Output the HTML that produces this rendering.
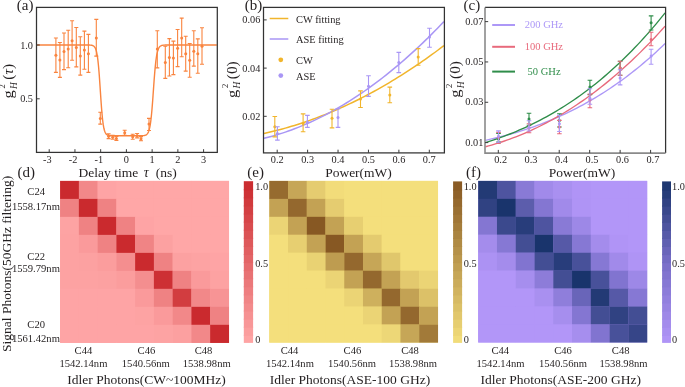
<!DOCTYPE html><html><head><meta charset="utf-8"><style>html,body{margin:0;padding:0;background:#fff;}svg{display:block;font-family:"Liberation Serif", serif;will-change:transform;}</style></head><body>
<svg width="685" height="387" viewBox="0 0 685 387">
<rect width="685" height="387" fill="#fff"/>
<path d="M37.00,45.00 L37.36,45.00 L37.72,45.00 L38.08,45.00 L38.44,45.00 L38.80,45.00 L39.16,45.00 L39.52,45.00 L39.88,45.00 L40.24,45.00 L40.60,45.00 L40.96,45.00 L41.32,45.00 L41.68,45.00 L42.04,45.00 L42.40,45.00 L42.77,45.00 L43.13,45.00 L43.49,45.00 L43.85,45.00 L44.21,45.00 L44.57,45.00 L44.93,45.00 L45.29,45.00 L45.65,45.00 L46.01,45.00 L46.37,45.00 L46.73,45.00 L47.09,45.00 L47.45,45.00 L47.81,45.00 L48.17,45.00 L48.53,45.00 L48.89,45.00 L49.25,45.00 L49.61,45.00 L49.97,45.00 L50.33,45.00 L50.69,45.00 L51.05,45.00 L51.41,45.00 L51.77,45.00 L52.13,45.00 L52.49,45.00 L52.85,45.00 L53.21,45.00 L53.57,45.00 L53.94,45.00 L54.30,45.00 L54.66,45.00 L55.02,45.00 L55.38,45.00 L55.74,45.00 L56.10,45.00 L56.46,45.00 L56.82,45.00 L57.18,45.00 L57.54,45.00 L57.90,45.00 L58.26,45.00 L58.62,45.00 L58.98,45.00 L59.34,45.00 L59.70,45.00 L60.06,45.00 L60.42,45.00 L60.78,45.00 L61.14,45.00 L61.50,45.00 L61.86,45.00 L62.22,45.00 L62.58,45.00 L62.94,45.00 L63.30,45.00 L63.66,45.00 L64.02,45.00 L64.38,45.00 L64.74,45.00 L65.11,45.00 L65.47,45.00 L65.83,45.00 L66.19,45.00 L66.55,45.00 L66.91,45.00 L67.27,45.00 L67.63,45.00 L67.99,45.00 L68.35,45.00 L68.71,45.00 L69.07,45.00 L69.43,45.00 L69.79,45.00 L70.15,45.00 L70.51,45.00 L70.87,45.00 L71.23,45.00 L71.59,45.00 L71.95,45.00 L72.31,45.00 L72.67,45.00 L73.03,45.00 L73.39,45.00 L73.75,45.00 L74.11,45.00 L74.47,45.00 L74.83,45.00 L75.19,45.00 L75.55,45.00 L75.91,45.00 L76.27,45.00 L76.64,45.00 L77.00,45.00 L77.36,45.00 L77.72,45.00 L78.08,45.00 L78.44,45.00 L78.80,45.00 L79.16,45.00 L79.52,45.00 L79.88,45.00 L80.24,45.00 L80.60,45.00 L80.96,45.00 L81.32,45.00 L81.68,45.00 L82.04,45.00 L82.40,45.00 L82.76,45.00 L83.12,45.00 L83.48,45.00 L83.84,45.00 L84.20,45.00 L84.56,45.00 L84.92,45.00 L85.28,45.00 L85.64,45.01 L86.00,45.01 L86.36,45.01 L86.72,45.01 L87.08,45.01 L87.44,45.02 L87.81,45.02 L88.17,45.03 L88.53,45.04 L88.89,45.05 L89.25,45.06 L89.61,45.07 L89.97,45.09 L90.33,45.12 L90.69,45.15 L91.05,45.19 L91.41,45.24 L91.77,45.31 L92.13,45.39 L92.49,45.49 L92.85,45.63 L93.21,45.80 L93.57,46.01 L93.93,46.28 L94.29,46.62 L94.65,47.05 L95.01,47.60 L95.37,48.28 L95.73,49.12 L96.09,50.18 L96.45,51.49 L96.81,53.09 L97.17,55.05 L97.53,57.40 L97.89,60.20 L98.25,63.49 L98.61,67.28 L98.98,71.56 L99.34,76.29 L99.70,81.38 L100.06,86.72 L100.42,92.16 L100.78,97.55 L101.14,102.75 L101.50,107.62 L101.86,112.06 L102.22,116.03 L102.58,119.49 L102.94,122.46 L103.30,124.97 L103.66,127.06 L104.02,128.78 L104.38,130.19 L104.74,131.33 L105.10,132.25 L105.46,132.98 L105.82,133.57 L106.18,134.04 L106.54,134.41 L106.90,134.70 L107.26,134.93 L107.62,135.12 L107.98,135.26 L108.34,135.38 L108.70,135.47 L109.06,135.54 L109.42,135.59 L109.78,135.64 L110.15,135.67 L110.51,135.70 L110.87,135.72 L111.23,135.74 L111.59,135.75 L111.95,135.76 L112.31,135.77 L112.67,135.78 L113.03,135.78 L113.39,135.79 L113.75,135.79 L114.11,135.79 L114.47,135.79 L114.83,135.79 L115.19,135.80 L115.55,135.80 L115.91,135.80 L116.27,135.80 L116.63,135.80 L116.99,135.80 L117.35,135.80 L117.71,135.80 L118.07,135.80 L118.43,135.80 L118.79,135.80 L119.15,135.80 L119.51,135.80 L119.87,135.80 L120.23,135.80 L120.59,135.80 L120.95,135.80 L121.32,135.80 L121.68,135.80 L122.04,135.80 L122.40,135.80 L122.76,135.80 L123.12,135.80 L123.48,135.80 L123.84,135.80 L124.20,135.80 L124.56,135.80 L124.92,135.80 L125.28,135.80 L125.64,135.80 L126.00,135.80 L126.36,135.80 L126.72,135.80 L127.08,135.80 L127.44,135.80 L127.80,135.80 L128.16,135.80 L128.52,135.80 L128.88,135.80 L129.24,135.80 L129.60,135.80 L129.96,135.80 L130.32,135.80 L130.68,135.80 L131.04,135.80 L131.40,135.80 L131.76,135.80 L132.12,135.80 L132.48,135.80 L132.85,135.80 L133.21,135.80 L133.57,135.80 L133.93,135.80 L134.29,135.80 L134.65,135.80 L135.01,135.80 L135.37,135.80 L135.73,135.80 L136.09,135.80 L136.45,135.80 L136.81,135.80 L137.17,135.80 L137.53,135.80 L137.89,135.79 L138.25,135.79 L138.61,135.79 L138.97,135.79 L139.33,135.79 L139.69,135.78 L140.05,135.78 L140.41,135.77 L140.77,135.77 L141.13,135.76 L141.49,135.75 L141.85,135.73 L142.21,135.72 L142.57,135.70 L142.93,135.67 L143.29,135.64 L143.65,135.59 L144.02,135.54 L144.38,135.48 L144.74,135.40 L145.10,135.30 L145.46,135.17 L145.82,135.01 L146.18,134.82 L146.54,134.57 L146.90,134.27 L147.26,133.89 L147.62,133.42 L147.98,132.83 L148.34,132.12 L148.70,131.23 L149.06,130.15 L149.42,128.83 L149.78,127.24 L150.14,125.32 L150.50,123.05 L150.86,120.38 L151.22,117.28 L151.58,113.74 L151.94,109.76 L152.30,105.39 L152.66,100.68 L153.02,95.72 L153.38,90.63 L153.74,85.54 L154.10,80.57 L154.46,75.83 L154.82,71.42 L155.19,67.41 L155.55,63.83 L155.91,60.69 L156.27,57.98 L156.63,55.67 L156.99,53.72 L157.35,52.10 L157.71,50.76 L158.07,49.66 L158.43,48.76 L158.79,48.03 L159.15,47.43 L159.51,46.95 L159.87,46.57 L160.23,46.25 L160.59,46.00 L160.95,45.80 L161.31,45.64 L161.67,45.51 L162.03,45.41 L162.39,45.33 L162.75,45.26 L163.11,45.21 L163.47,45.17 L163.83,45.13 L164.19,45.11 L164.55,45.09 L164.91,45.07 L165.27,45.05 L165.63,45.04 L165.99,45.03 L166.36,45.03 L166.72,45.02 L167.08,45.02 L167.44,45.01 L167.80,45.01 L168.16,45.01 L168.52,45.01 L168.88,45.01 L169.24,45.00 L169.60,45.00 L169.96,45.00 L170.32,45.00 L170.68,45.00 L171.04,45.00 L171.40,45.00 L171.76,45.00 L172.12,45.00 L172.48,45.00 L172.84,45.00 L173.20,45.00 L173.56,45.00 L173.92,45.00 L174.28,45.00 L174.64,45.00 L175.00,45.00 L175.36,45.00 L175.72,45.00 L176.08,45.00 L176.44,45.00 L176.80,45.00 L177.16,45.00 L177.53,45.00 L177.89,45.00 L178.25,45.00 L178.61,45.00 L178.97,45.00 L179.33,45.00 L179.69,45.00 L180.05,45.00 L180.41,45.00 L180.77,45.00 L181.13,45.00 L181.49,45.00 L181.85,45.00 L182.21,45.00 L182.57,45.00 L182.93,45.00 L183.29,45.00 L183.65,45.00 L184.01,45.00 L184.37,45.00 L184.73,45.00 L185.09,45.00 L185.45,45.00 L185.81,45.00 L186.17,45.00 L186.53,45.00 L186.89,45.00 L187.25,45.00 L187.61,45.00 L187.97,45.00 L188.33,45.00 L188.69,45.00 L189.06,45.00 L189.42,45.00 L189.78,45.00 L190.14,45.00 L190.50,45.00 L190.86,45.00 L191.22,45.00 L191.58,45.00 L191.94,45.00 L192.30,45.00 L192.66,45.00 L193.02,45.00 L193.38,45.00 L193.74,45.00 L194.10,45.00 L194.46,45.00 L194.82,45.00 L195.18,45.00 L195.54,45.00 L195.90,45.00 L196.26,45.00 L196.62,45.00 L196.98,45.00 L197.34,45.00 L197.70,45.00 L198.06,45.00 L198.42,45.00 L198.78,45.00 L199.14,45.00 L199.50,45.00 L199.86,45.00 L200.23,45.00 L200.59,45.00 L200.95,45.00 L201.31,45.00 L201.67,45.00 L202.03,45.00 L202.39,45.00 L202.75,45.00 L203.11,45.00 L203.47,45.00 L203.83,45.00 L204.19,45.00 L204.55,45.00 L204.91,45.00 L205.27,45.00 L205.63,45.00 L205.99,45.00 L206.35,45.00 L206.71,45.00 L207.07,45.00 L207.43,45.00 L207.79,45.00 L208.15,45.00 L208.51,45.00 L208.87,45.00 L209.23,45.00 L209.59,45.00 L209.95,45.00 L210.31,45.00 L210.67,45.00 L211.03,45.00 L211.40,45.00 L211.76,45.00 L212.12,45.00 L212.48,45.00 L212.84,45.00 L213.20,45.00 L213.56,45.00 L213.92,45.00 L214.28,45.00 L214.64,45.00 L215.00,45.00 L215.36,45.00 L215.72,45.00 L216.08,45.00 L216.44,45.00 L216.80,45.00" stroke="#f9843f" stroke-width="1.4" fill="none"/>
<path d="M55.90,38.00 V72.40 M53.90,38.00 H57.90 M53.90,72.40 H57.90" stroke="#f9843f" stroke-width="1.1" fill="none"/>
<circle cx="55.90" cy="55.20" r="1.5" fill="#f9843f"/>
<path d="M59.90,42.50 V77.40 M57.90,42.50 H61.90 M57.90,77.40 H61.90" stroke="#f9843f" stroke-width="1.1" fill="none"/>
<circle cx="59.90" cy="60.10" r="1.5" fill="#f9843f"/>
<path d="M64.00,33.00 V69.60 M62.00,33.00 H66.00 M62.00,69.60 H66.00" stroke="#f9843f" stroke-width="1.1" fill="none"/>
<circle cx="64.00" cy="51.60" r="1.5" fill="#f9843f"/>
<path d="M68.20,30.20 V67.80 M66.20,30.20 H70.20 M66.20,67.80 H70.20" stroke="#f9843f" stroke-width="1.1" fill="none"/>
<circle cx="68.20" cy="48.90" r="1.5" fill="#f9843f"/>
<path d="M72.10,20.80 V60.20 M70.10,20.80 H74.10 M70.10,60.20 H74.10" stroke="#f9843f" stroke-width="1.1" fill="none"/>
<circle cx="72.10" cy="40.70" r="1.5" fill="#f9843f"/>
<path d="M76.30,27.50 V66.90 M74.30,27.50 H78.30 M74.30,66.90 H78.30" stroke="#f9843f" stroke-width="1.1" fill="none"/>
<circle cx="76.30" cy="47.40" r="1.5" fill="#f9843f"/>
<path d="M80.30,36.70 V75.10 M78.30,36.70 H82.30 M78.30,75.10 H82.30" stroke="#f9843f" stroke-width="1.1" fill="none"/>
<circle cx="80.30" cy="56.10" r="1.5" fill="#f9843f"/>
<path d="M84.40,31.10 V69.30 M82.40,31.10 H86.40 M82.40,69.30 H86.40" stroke="#f9843f" stroke-width="1.1" fill="none"/>
<circle cx="84.40" cy="50.10" r="1.5" fill="#f9843f"/>
<path d="M88.40,34.40 V72.40 M86.40,34.40 H90.40 M86.40,72.40 H90.40" stroke="#f9843f" stroke-width="1.1" fill="none"/>
<circle cx="88.40" cy="53.70" r="1.5" fill="#f9843f"/>
<path d="M96.30,19.40 V56.10 M94.30,19.40 H98.30 M94.30,56.10 H98.30" stroke="#f9843f" stroke-width="1.1" fill="none"/>
<circle cx="96.30" cy="38.00" r="1.5" fill="#f9843f"/>
<path d="M100.30,112.30 V124.10 M98.30,112.30 H102.30 M98.30,124.10 H102.30" stroke="#f9843f" stroke-width="1.1" fill="none"/>
<circle cx="100.30" cy="118.50" r="1.5" fill="#f9843f"/>
<path d="M108.60,133.90 V138.60 M106.60,133.90 H110.60 M106.60,138.60 H110.60" stroke="#f9843f" stroke-width="1.1" fill="none"/>
<circle cx="108.60" cy="136.20" r="1.5" fill="#f9843f"/>
<path d="M112.70,135.20 V139.30 M110.70,135.20 H114.70 M110.70,139.30 H114.70" stroke="#f9843f" stroke-width="1.1" fill="none"/>
<circle cx="112.70" cy="137.20" r="1.5" fill="#f9843f"/>
<path d="M116.40,136.40 V140.40 M114.40,136.40 H118.40 M114.40,140.40 H118.40" stroke="#f9843f" stroke-width="1.1" fill="none"/>
<circle cx="116.40" cy="138.40" r="1.5" fill="#f9843f"/>
<path d="M124.70,130.20 V135.30 M122.70,130.20 H126.70 M122.70,135.30 H126.70" stroke="#f9843f" stroke-width="1.1" fill="none"/>
<circle cx="124.70" cy="132.80" r="1.5" fill="#f9843f"/>
<path d="M132.70,134.20 V139.30 M130.70,134.20 H134.70 M130.70,139.30 H134.70" stroke="#f9843f" stroke-width="1.1" fill="none"/>
<circle cx="132.70" cy="136.70" r="1.5" fill="#f9843f"/>
<path d="M137.10,133.50 V137.90 M135.10,133.50 H139.10 M135.10,137.90 H139.10" stroke="#f9843f" stroke-width="1.1" fill="none"/>
<circle cx="137.10" cy="135.70" r="1.5" fill="#f9843f"/>
<path d="M141.00,136.60 V140.80 M139.00,136.60 H143.00 M139.00,140.80 H143.00" stroke="#f9843f" stroke-width="1.1" fill="none"/>
<circle cx="141.00" cy="138.70" r="1.5" fill="#f9843f"/>
<path d="M149.00,118.40 V130.50 M147.00,118.40 H151.00 M147.00,130.50 H151.00" stroke="#f9843f" stroke-width="1.1" fill="none"/>
<circle cx="149.00" cy="124.00" r="1.5" fill="#f9843f"/>
<path d="M157.30,30.80 V67.90 M155.30,30.80 H159.30 M155.30,67.90 H159.30" stroke="#f9843f" stroke-width="1.1" fill="none"/>
<circle cx="157.30" cy="48.90" r="1.5" fill="#f9843f"/>
<path d="M165.30,46.20 V78.40 M163.30,46.20 H167.30 M163.30,78.40 H167.30" stroke="#f9843f" stroke-width="1.1" fill="none"/>
<circle cx="165.30" cy="62.50" r="1.5" fill="#f9843f"/>
<path d="M169.40,38.60 V76.00 M167.40,38.60 H171.40 M167.40,76.00 H171.40" stroke="#f9843f" stroke-width="1.1" fill="none"/>
<circle cx="169.40" cy="57.40" r="1.5" fill="#f9843f"/>
<path d="M173.40,41.10 V74.60 M171.40,41.10 H175.40 M171.40,74.60 H175.40" stroke="#f9843f" stroke-width="1.1" fill="none"/>
<circle cx="173.40" cy="57.90" r="1.5" fill="#f9843f"/>
<path d="M177.60,29.50 V66.60 M175.60,29.50 H179.60 M175.60,66.60 H179.60" stroke="#f9843f" stroke-width="1.1" fill="none"/>
<circle cx="177.60" cy="48.30" r="1.5" fill="#f9843f"/>
<path d="M181.70,18.10 V56.70 M179.70,18.10 H183.70 M179.70,56.70 H183.70" stroke="#f9843f" stroke-width="1.1" fill="none"/>
<circle cx="181.70" cy="38.00" r="1.5" fill="#f9843f"/>
<path d="M185.70,36.20 V71.10 M183.70,36.20 H187.70 M183.70,71.10 H187.70" stroke="#f9843f" stroke-width="1.1" fill="none"/>
<circle cx="185.70" cy="53.80" r="1.5" fill="#f9843f"/>
<path d="M189.70,43.50 V77.30 M187.70,43.50 H191.70 M187.70,77.30 H191.70" stroke="#f9843f" stroke-width="1.1" fill="none"/>
<circle cx="189.70" cy="60.30" r="1.5" fill="#f9843f"/>
<path d="M193.80,30.80 V66.10 M191.80,30.80 H195.80 M191.80,66.10 H195.80" stroke="#f9843f" stroke-width="1.1" fill="none"/>
<circle cx="193.80" cy="51.20" r="1.5" fill="#f9843f"/>
<path d="M197.80,38.90 V73.30 M195.80,38.90 H199.80 M195.80,73.30 H199.80" stroke="#f9843f" stroke-width="1.1" fill="none"/>
<circle cx="197.80" cy="53.80" r="1.5" fill="#f9843f"/>
<path d="M202.00,27.70 V64.30 M200.00,27.70 H204.00 M200.00,64.30 H204.00" stroke="#f9843f" stroke-width="1.1" fill="none"/>
<circle cx="202.00" cy="46.20" r="1.5" fill="#f9843f"/>
<rect x="36.5" y="7.4" width="180.8" height="145.0" fill="none" stroke="#333" stroke-width="1.25"/>
<path d="M49.21,152.4 V149.20000000000002" stroke="#3c3c3c" stroke-width="1"/>
<text x="47.41" y="162.70" font-size="10.3" text-anchor="middle" fill="#231f20" >-3</text>
<path d="M74.94,152.4 V149.20000000000002" stroke="#3c3c3c" stroke-width="1"/>
<text x="73.14" y="162.70" font-size="10.3" text-anchor="middle" fill="#231f20" >-2</text>
<path d="M100.67,152.4 V149.20000000000002" stroke="#3c3c3c" stroke-width="1"/>
<text x="98.87" y="162.70" font-size="10.3" text-anchor="middle" fill="#231f20" >-1</text>
<path d="M126.40,152.4 V149.20000000000002" stroke="#3c3c3c" stroke-width="1"/>
<text x="126.40" y="162.70" font-size="10.3" text-anchor="middle" fill="#231f20" >0</text>
<path d="M152.13,152.4 V149.20000000000002" stroke="#3c3c3c" stroke-width="1"/>
<text x="152.13" y="162.70" font-size="10.3" text-anchor="middle" fill="#231f20" >1</text>
<path d="M177.86,152.4 V149.20000000000002" stroke="#3c3c3c" stroke-width="1"/>
<text x="177.86" y="162.70" font-size="10.3" text-anchor="middle" fill="#231f20" >2</text>
<path d="M203.59,152.4 V149.20000000000002" stroke="#3c3c3c" stroke-width="1"/>
<text x="203.59" y="162.70" font-size="10.3" text-anchor="middle" fill="#231f20" >3</text>
<path d="M36.5,45.00 H39.7" stroke="#3c3c3c" stroke-width="1"/>
<text x="33.00" y="48.50" font-size="10.3" text-anchor="end" fill="#231f20" >1.0</text>
<path d="M36.5,98.80 H39.7" stroke="#3c3c3c" stroke-width="1"/>
<text x="33.00" y="102.30" font-size="10.3" text-anchor="end" fill="#231f20" >0.5</text>
<text x="78.60" y="176.80" font-size="13.5" text-anchor="start" fill="#231f20" >Delay time<tspan dx="5.5" font-style="italic" font-size="14">τ</tspan><tspan dx="7">(ns)</tspan></text>
<text x="16.80" y="10.30" font-size="15" text-anchor="start" fill="#231f20" >(a)</text>
<g transform="translate(13.2,98.2) rotate(-90)">
<text x="-0.3" y="0" font-size="15.5" fill="#231f20" textLength="8.2" lengthAdjust="spacingAndGlyphs">g</text>
<text x="9.6" y="-8.1" font-size="8.5" fill="#231f20">2</text>
<text x="9.3" y="3.8" font-size="9.4" fill="#231f20" font-style="italic">H</text>
<text x="18.5" y="0" font-size="15.4" fill="#231f20">(<tspan font-style="italic">τ</tspan>)</text>
</g>
<path d="M264.00,133.41 L267.05,132.73 L270.10,132.03 L273.15,131.30 L276.20,130.54 L279.25,129.76 L282.29,128.94 L285.34,128.10 L288.39,127.23 L291.44,126.33 L294.49,125.41 L297.54,124.45 L300.59,123.47 L303.64,122.46 L306.69,121.42 L309.74,120.35 L312.79,119.26 L315.84,118.14 L318.88,116.99 L321.93,115.81 L324.98,114.60 L328.03,113.37 L331.08,112.10 L334.13,110.81 L337.18,109.49 L340.23,108.15 L343.28,106.77 L346.33,105.37 L349.38,103.94 L352.43,102.48 L355.47,100.99 L358.52,99.48 L361.57,97.93 L364.62,96.36 L367.67,94.76 L370.72,93.14 L373.77,91.48 L376.82,89.80 L379.87,88.09 L382.92,86.35 L385.97,84.58 L389.02,82.78 L392.06,80.96 L395.11,79.11 L398.16,77.23 L401.21,75.32 L404.26,73.39 L407.31,71.42 L410.36,69.43 L413.41,67.41 L416.46,65.36 L419.51,63.29 L422.56,61.18 L425.61,59.05 L428.65,56.89 L431.70,54.70 L434.75,52.49 L437.80,50.24 L440.85,47.97 L443.90,45.67" stroke="#f1b52c" stroke-width="1.5" fill="none"/>
<path d="M264.00,138.33 L267.05,137.57 L270.10,136.76 L273.15,135.91 L276.20,135.02 L279.25,134.09 L282.29,133.11 L285.34,132.10 L288.39,131.04 L291.44,129.94 L294.49,128.80 L297.54,127.61 L300.59,126.39 L303.64,125.12 L306.69,123.81 L309.74,122.46 L312.79,121.07 L315.84,119.63 L318.88,118.16 L321.93,116.64 L324.98,115.08 L328.03,113.48 L331.08,111.83 L334.13,110.15 L337.18,108.42 L340.23,106.65 L343.28,104.84 L346.33,102.99 L349.38,101.09 L352.43,99.16 L355.47,97.18 L358.52,95.16 L361.57,93.10 L364.62,91.00 L367.67,88.85 L370.72,86.66 L373.77,84.43 L376.82,82.16 L379.87,79.85 L382.92,77.50 L385.97,75.10 L389.02,72.66 L392.06,70.18 L395.11,67.66 L398.16,65.10 L401.21,62.50 L404.26,59.85 L407.31,57.16 L410.36,54.43 L413.41,51.66 L416.46,48.84 L419.51,45.99 L422.56,43.09 L425.61,40.15 L428.65,37.17 L431.70,34.15 L434.75,31.08 L437.80,27.98 L440.85,24.83 L443.90,21.64" stroke="#a996f5" stroke-width="1.5" fill="none"/>
<path d="M274.80,116.50 V136.90 M272.50,116.50 H277.10 M272.50,136.90 H277.10" stroke="#f1b52c" stroke-width="1.1" fill="none"/>
<circle cx="274.80" cy="126.80" r="1.5" fill="#f1b52c"/>
<path d="M303.10,113.90 V131.70 M300.80,113.90 H305.40 M300.80,131.70 H305.40" stroke="#f1b52c" stroke-width="1.1" fill="none"/>
<circle cx="303.10" cy="123.60" r="1.5" fill="#f1b52c"/>
<path d="M332.00,109.20 V127.90 M329.70,109.20 H334.30 M329.70,127.90 H334.30" stroke="#f1b52c" stroke-width="1.1" fill="none"/>
<circle cx="332.00" cy="118.20" r="1.5" fill="#f1b52c"/>
<path d="M360.50,90.90 V107.50 M358.20,90.90 H362.80 M358.20,107.50 H362.80" stroke="#f1b52c" stroke-width="1.1" fill="none"/>
<circle cx="360.50" cy="99.00" r="1.5" fill="#f1b52c"/>
<path d="M389.80,87.10 V102.70 M387.50,87.10 H392.10 M387.50,102.70 H392.10" stroke="#f1b52c" stroke-width="1.1" fill="none"/>
<circle cx="389.80" cy="95.00" r="1.5" fill="#f1b52c"/>
<path d="M418.20,48.60 V65.20 M415.90,48.60 H420.50 M415.90,65.20 H420.50" stroke="#f1b52c" stroke-width="1.1" fill="none"/>
<circle cx="418.20" cy="57.00" r="1.5" fill="#f1b52c"/>
<path d="M277.40,126.80 V140.10 M275.10,126.80 H279.70 M275.10,140.10 H279.70" stroke="#a996f5" stroke-width="1.1" fill="none"/>
<circle cx="277.40" cy="133.60" r="1.5" fill="#a996f5"/>
<path d="M307.40,115.40 V127.40 M305.10,115.40 H309.70 M305.10,127.40 H309.70" stroke="#a996f5" stroke-width="1.1" fill="none"/>
<circle cx="307.40" cy="122.10" r="1.5" fill="#a996f5"/>
<path d="M338.00,108.60 V127.40 M335.70,108.60 H340.30 M335.70,127.40 H340.30" stroke="#a996f5" stroke-width="1.1" fill="none"/>
<circle cx="338.00" cy="117.60" r="1.5" fill="#a996f5"/>
<path d="M368.50,75.70 V96.40 M366.20,75.70 H370.80 M366.20,96.40 H370.80" stroke="#a996f5" stroke-width="1.1" fill="none"/>
<circle cx="368.50" cy="86.20" r="1.5" fill="#a996f5"/>
<path d="M398.80,52.40 V72.60 M396.50,52.40 H401.10 M396.50,72.60 H401.10" stroke="#a996f5" stroke-width="1.1" fill="none"/>
<circle cx="398.80" cy="62.50" r="1.5" fill="#a996f5"/>
<path d="M429.50,28.30 V47.20 M427.20,28.30 H431.80 M427.20,47.20 H431.80" stroke="#a996f5" stroke-width="1.1" fill="none"/>
<circle cx="429.50" cy="37.00" r="1.5" fill="#a996f5"/>
<rect x="263.5" y="7.4" width="180.89999999999998" height="145.5" fill="none" stroke="#333" stroke-width="1.25"/>
<path d="M277.20,152.9 V149.70000000000002" stroke="#3c3c3c" stroke-width="1"/>
<text x="277.20" y="162.70" font-size="10.3" text-anchor="middle" fill="#231f20" >0.2</text>
<path d="M307.62,152.9 V149.70000000000002" stroke="#3c3c3c" stroke-width="1"/>
<text x="307.62" y="162.70" font-size="10.3" text-anchor="middle" fill="#231f20" >0.3</text>
<path d="M338.04,152.9 V149.70000000000002" stroke="#3c3c3c" stroke-width="1"/>
<text x="338.04" y="162.70" font-size="10.3" text-anchor="middle" fill="#231f20" >0.4</text>
<path d="M368.46,152.9 V149.70000000000002" stroke="#3c3c3c" stroke-width="1"/>
<text x="368.46" y="162.70" font-size="10.3" text-anchor="middle" fill="#231f20" >0.5</text>
<path d="M398.88,152.9 V149.70000000000002" stroke="#3c3c3c" stroke-width="1"/>
<text x="398.88" y="162.70" font-size="10.3" text-anchor="middle" fill="#231f20" >0.6</text>
<path d="M429.30,152.9 V149.70000000000002" stroke="#3c3c3c" stroke-width="1"/>
<text x="429.30" y="162.70" font-size="10.3" text-anchor="middle" fill="#231f20" >0.7</text>
<path d="M263.5,116.30 H266.7" stroke="#3c3c3c" stroke-width="1"/>
<text x="260.30" y="119.80" font-size="10.3" text-anchor="end" fill="#231f20" >0.02</text>
<path d="M263.5,68.10 H266.7" stroke="#3c3c3c" stroke-width="1"/>
<text x="260.30" y="71.60" font-size="10.3" text-anchor="end" fill="#231f20" >0.04</text>
<path d="M263.5,19.90 H266.7" stroke="#3c3c3c" stroke-width="1"/>
<text x="260.30" y="23.40" font-size="10.3" text-anchor="end" fill="#231f20" >0.06</text>
<text x="358.50" y="177.20" font-size="13.5" text-anchor="middle" fill="#231f20" >Power(mW)</text>
<text x="244.80" y="10.30" font-size="15" text-anchor="start" fill="#231f20" >(b)</text>
<path d="M269.7,18.5 H288.3" stroke="#f1b52c" stroke-width="1.5"/>
<path d="M269.7,39 H288.3" stroke="#a996f5" stroke-width="1.5"/>
<circle cx="280.8" cy="59.8" r="2.4" fill="#f1b52c"/>
<circle cx="280.8" cy="75.6" r="2.4" fill="#a996f5"/>
<text x="296.00" y="22.60" font-size="10.4" text-anchor="start" fill="#231f20" >CW fitting</text>
<text x="296.00" y="43.00" font-size="10.4" text-anchor="start" fill="#231f20" >ASE fitting</text>
<text x="296.00" y="63.80" font-size="10.4" text-anchor="start" fill="#231f20" >CW</text>
<text x="296.00" y="79.60" font-size="10.4" text-anchor="start" fill="#231f20" >ASE</text>
<g transform="translate(236.5,97.7) rotate(-90)">
<text x="-0.3" y="0" font-size="15.5" fill="#231f20" textLength="8.2" lengthAdjust="spacingAndGlyphs">g</text>
<text x="9.6" y="-8.1" font-size="8.5" fill="#231f20">2</text>
<text x="9.3" y="3.8" font-size="9.4" fill="#231f20" font-style="italic">H</text>
<text x="18.5" y="0" font-size="15.4" fill="#231f20">(0)</text>
</g>
<path d="M485.50,140.29 L488.54,139.63 L491.59,138.94 L494.63,138.23 L497.68,137.49 L500.72,136.73 L503.76,135.94 L506.81,135.13 L509.85,134.29 L512.90,133.43 L515.94,132.54 L518.98,131.62 L522.03,130.67 L525.07,129.69 L528.12,128.68 L531.16,127.64 L534.21,126.58 L537.25,125.48 L540.29,124.34 L543.34,123.18 L546.38,121.98 L549.43,120.75 L552.47,119.48 L555.51,118.18 L558.56,116.85 L561.60,115.48 L564.65,114.07 L567.69,112.63 L570.73,111.14 L573.78,109.62 L576.82,108.07 L579.87,106.47 L582.91,104.83 L585.95,103.15 L589.00,101.43 L592.04,99.67 L595.09,97.87 L598.13,96.03 L601.17,94.14 L604.22,92.21 L607.26,90.24 L610.31,88.22 L613.35,86.15 L616.39,84.04 L619.44,81.88 L622.48,79.68 L625.53,77.43 L628.57,75.13 L631.62,72.78 L634.66,70.38 L637.70,67.94 L640.75,65.44 L643.79,62.89 L646.84,60.29 L649.88,57.64 L652.92,54.94 L655.97,52.18 L659.01,49.37 L662.06,46.51 L665.10,43.59" stroke="#ad98f7" stroke-width="1.35" fill="none"/>
<path d="M485.50,146.73 L488.54,145.91 L491.59,145.05 L494.63,144.16 L497.68,143.22 L500.72,142.25 L503.76,141.24 L506.81,140.19 L509.85,139.10 L512.90,137.97 L515.94,136.80 L518.98,135.59 L522.03,134.34 L525.07,133.05 L528.12,131.72 L531.16,130.35 L534.21,128.94 L537.25,127.49 L540.29,125.99 L543.34,124.46 L546.38,122.88 L549.43,121.26 L552.47,119.59 L555.51,117.89 L558.56,116.14 L561.60,114.35 L564.65,112.51 L567.69,110.63 L570.73,108.71 L573.78,106.75 L576.82,104.73 L579.87,102.68 L582.91,100.58 L585.95,98.43 L589.00,96.24 L592.04,94.01 L595.09,91.73 L598.13,89.40 L601.17,87.03 L604.22,84.61 L607.26,82.14 L610.31,79.63 L613.35,77.07 L616.39,74.47 L619.44,71.81 L622.48,69.11 L625.53,66.36 L628.57,63.56 L631.62,60.72 L634.66,57.82 L637.70,54.88 L640.75,51.89 L643.79,48.84 L646.84,45.75 L649.88,42.61 L652.92,39.42 L655.97,36.18 L659.01,32.89 L662.06,29.55 L665.10,26.15" stroke="#e86a7c" stroke-width="1.35" fill="none"/>
<path d="M485.50,142.63 L488.54,141.66 L491.59,140.66 L494.63,139.63 L497.68,138.57 L500.72,137.48 L503.76,136.36 L506.81,135.20 L509.85,134.00 L512.90,132.78 L515.94,131.51 L518.98,130.22 L522.03,128.88 L525.07,127.51 L528.12,126.10 L531.16,124.65 L534.21,123.16 L537.25,121.63 L540.29,120.07 L543.34,118.46 L546.38,116.80 L549.43,115.11 L552.47,113.37 L555.51,111.59 L558.56,109.77 L561.60,107.90 L564.65,105.98 L567.69,104.02 L570.73,102.01 L573.78,99.96 L576.82,97.85 L579.87,95.70 L582.91,93.49 L585.95,91.24 L589.00,88.94 L592.04,86.58 L595.09,84.17 L598.13,81.71 L601.17,79.20 L604.22,76.63 L607.26,74.01 L610.31,71.33 L613.35,68.60 L616.39,65.80 L619.44,62.96 L622.48,60.05 L625.53,57.08 L628.57,54.06 L631.62,50.98 L634.66,47.83 L637.70,44.62 L640.75,41.36 L643.79,38.03 L646.84,34.63 L649.88,31.18 L652.92,27.65 L655.97,24.07 L659.01,20.41 L662.06,16.69 L665.10,12.91" stroke="#2f8d4a" stroke-width="1.35" fill="none"/>
<path d="M498.50,133.50 V142.00 M496.20,133.50 H500.80 M496.20,142.00 H500.80" stroke="#2f8d4a" stroke-width="1.1" fill="none"/>
<circle cx="498.50" cy="139.00" r="1.5" fill="#2f8d4a"/>
<path d="M529.00,113.30 V125.20 M526.70,113.30 H531.30 M526.70,125.20 H531.30" stroke="#2f8d4a" stroke-width="1.1" fill="none"/>
<circle cx="529.00" cy="119.10" r="1.5" fill="#2f8d4a"/>
<path d="M559.40,113.80 V127.00 M557.10,113.80 H561.70 M557.10,127.00 H561.70" stroke="#2f8d4a" stroke-width="1.1" fill="none"/>
<circle cx="559.40" cy="120.40" r="1.5" fill="#2f8d4a"/>
<path d="M589.90,80.30 V94.60 M587.60,80.30 H592.20 M587.60,94.60 H592.20" stroke="#2f8d4a" stroke-width="1.1" fill="none"/>
<circle cx="589.90" cy="87.00" r="1.5" fill="#2f8d4a"/>
<path d="M620.10,61.30 V75.30 M617.80,61.30 H622.40 M617.80,75.30 H622.40" stroke="#2f8d4a" stroke-width="1.1" fill="none"/>
<circle cx="620.10" cy="68.00" r="1.5" fill="#2f8d4a"/>
<path d="M651.10,15.90 V30.00 M648.80,15.90 H653.40 M648.80,30.00 H653.40" stroke="#2f8d4a" stroke-width="1.1" fill="none"/>
<circle cx="651.10" cy="22.70" r="1.5" fill="#2f8d4a"/>
<path d="M498.50,132.40 V143.50 M496.20,132.40 H500.80 M496.20,143.50 H500.80" stroke="#e86a7c" stroke-width="1.1" fill="none"/>
<circle cx="498.50" cy="137.50" r="1.5" fill="#e86a7c"/>
<path d="M529.00,123.70 V132.70 M526.70,123.70 H531.30 M526.70,132.70 H531.30" stroke="#e86a7c" stroke-width="1.1" fill="none"/>
<circle cx="529.00" cy="127.80" r="1.5" fill="#e86a7c"/>
<path d="M559.40,120.40 V133.70 M557.10,120.40 H561.70 M557.10,133.70 H561.70" stroke="#e86a7c" stroke-width="1.1" fill="none"/>
<circle cx="559.40" cy="127.00" r="1.5" fill="#e86a7c"/>
<path d="M589.90,94.10 V107.70 M587.60,94.10 H592.20 M587.60,107.70 H592.20" stroke="#e86a7c" stroke-width="1.1" fill="none"/>
<circle cx="589.90" cy="100.10" r="1.5" fill="#e86a7c"/>
<path d="M620.10,61.30 V75.30 M617.80,61.30 H622.40 M617.80,75.30 H622.40" stroke="#e86a7c" stroke-width="1.1" fill="none"/>
<circle cx="620.10" cy="68.00" r="1.5" fill="#e86a7c"/>
<path d="M651.10,32.20 V45.70 M648.80,32.20 H653.40 M648.80,45.70 H653.40" stroke="#e86a7c" stroke-width="1.1" fill="none"/>
<circle cx="651.10" cy="39.50" r="1.5" fill="#e86a7c"/>
<path d="M498.50,130.90 V142.30 M496.20,130.90 H500.80 M496.20,142.30 H500.80" stroke="#ad98f7" stroke-width="1.1" fill="none"/>
<circle cx="498.50" cy="136.20" r="1.5" fill="#ad98f7"/>
<path d="M529.00,120.70 V131.00 M526.70,120.70 H531.30 M526.70,131.00 H531.30" stroke="#ad98f7" stroke-width="1.1" fill="none"/>
<circle cx="529.00" cy="127.20" r="1.5" fill="#ad98f7"/>
<path d="M559.40,115.40 V131.50 M557.10,115.40 H561.70 M557.10,131.50 H561.70" stroke="#ad98f7" stroke-width="1.1" fill="none"/>
<circle cx="559.40" cy="123.70" r="1.5" fill="#ad98f7"/>
<path d="M589.90,88.70 V104.20 M587.60,88.70 H592.20 M587.60,104.20 H592.20" stroke="#ad98f7" stroke-width="1.1" fill="none"/>
<circle cx="589.90" cy="98.20" r="1.5" fill="#ad98f7"/>
<path d="M620.10,69.80 V84.90 M617.80,69.80 H622.40 M617.80,84.90 H622.40" stroke="#ad98f7" stroke-width="1.1" fill="none"/>
<circle cx="620.10" cy="77.90" r="1.5" fill="#ad98f7"/>
<path d="M651.10,49.30 V64.20 M648.80,49.30 H653.40 M648.80,64.20 H653.40" stroke="#ad98f7" stroke-width="1.1" fill="none"/>
<circle cx="651.10" cy="56.10" r="1.5" fill="#ad98f7"/>
<path d="M485.0,7.4 H665.6 V153.1" fill="none" stroke="#333" stroke-width="1.25"/>
<path d="M485.0,7.4 V153.1 H665.6" fill="none" stroke="#8a8a8a" stroke-width="1.6"/>
<path d="M498.30,153.1 V149.9" stroke="#3c3c3c" stroke-width="1"/>
<text x="500.60" y="162.70" font-size="10.3" text-anchor="middle" fill="#231f20" >0.2</text>
<path d="M528.76,153.1 V149.9" stroke="#3c3c3c" stroke-width="1"/>
<text x="531.06" y="162.70" font-size="10.3" text-anchor="middle" fill="#231f20" >0.3</text>
<path d="M559.22,153.1 V149.9" stroke="#3c3c3c" stroke-width="1"/>
<text x="561.52" y="162.70" font-size="10.3" text-anchor="middle" fill="#231f20" >0.4</text>
<path d="M589.68,153.1 V149.9" stroke="#3c3c3c" stroke-width="1"/>
<text x="591.98" y="162.70" font-size="10.3" text-anchor="middle" fill="#231f20" >0.5</text>
<path d="M620.14,153.1 V149.9" stroke="#3c3c3c" stroke-width="1"/>
<text x="622.44" y="162.70" font-size="10.3" text-anchor="middle" fill="#231f20" >0.6</text>
<path d="M650.60,153.1 V149.9" stroke="#3c3c3c" stroke-width="1"/>
<text x="652.90" y="162.70" font-size="10.3" text-anchor="middle" fill="#231f20" >0.7</text>
<path d="M485.0,142.60 H488.2" stroke="#3c3c3c" stroke-width="1"/>
<text x="483.40" y="145.70" font-size="10.3" text-anchor="end" fill="#231f20" >0.01</text>
<path d="M485.0,102.27 H488.2" stroke="#3c3c3c" stroke-width="1"/>
<text x="483.40" y="105.37" font-size="10.3" text-anchor="end" fill="#231f20" >0.03</text>
<path d="M485.0,61.94 H488.2" stroke="#3c3c3c" stroke-width="1"/>
<text x="483.40" y="65.04" font-size="10.3" text-anchor="end" fill="#231f20" >0.05</text>
<path d="M485.0,21.61 H488.2" stroke="#3c3c3c" stroke-width="1"/>
<text x="483.40" y="24.71" font-size="10.3" text-anchor="end" fill="#231f20" >0.07</text>
<text x="582.00" y="177.20" font-size="13.5" text-anchor="middle" fill="#231f20" >Power(mW)</text>
<text x="463.60" y="10.30" font-size="15" text-anchor="start" fill="#231f20" >(c)</text>
<path d="M492.2,25.0 H515" stroke="#ad98f7" stroke-width="2"/>
<path d="M492.2,46.8 H515" stroke="#e86a7c" stroke-width="2"/>
<path d="M492.2,71.6 H515" stroke="#2f8d4a" stroke-width="2"/>
<text x="524.80" y="28.40" font-size="10.5" text-anchor="start" fill="#ad98f7" >200 GHz</text>
<text x="524.80" y="49.80" font-size="10.5" text-anchor="start" fill="#e86a7c" >100 GHz</text>
<text x="527.60" y="74.70" font-size="10.5" text-anchor="start" fill="#2f8d4a" >50 GHz</text>
<g transform="translate(459.8,97.5) rotate(-90)">
<text x="-0.3" y="0" font-size="15.5" fill="#231f20" textLength="8.2" lengthAdjust="spacingAndGlyphs">g</text>
<text x="9.6" y="-8.1" font-size="8.5" fill="#231f20">2</text>
<text x="9.3" y="3.8" font-size="9.4" fill="#231f20" font-style="italic">H</text>
<text x="18.5" y="0" font-size="15.4" fill="#231f20">(0)</text>
</g>
<rect x="60.10" y="180.90" width="168.80" height="161.90" fill="#ffa7a7"/>
<rect x="60.10" y="180.90" width="18.91" height="18.14" fill="#ca2a2e"/>
<rect x="78.86" y="180.90" width="18.91" height="18.14" fill="#f28889"/>
<rect x="97.61" y="180.90" width="18.91" height="18.14" fill="#fea4a5"/>
<rect x="116.37" y="180.90" width="18.91" height="18.14" fill="#ffa7a7"/>
<rect x="135.12" y="180.90" width="18.91" height="18.14" fill="#ffa7a7"/>
<rect x="153.88" y="180.90" width="18.91" height="18.14" fill="#ffa7a7"/>
<rect x="172.63" y="180.90" width="18.91" height="18.14" fill="#ffa7a7"/>
<rect x="191.39" y="180.90" width="18.91" height="18.14" fill="#ffa7a7"/>
<rect x="210.14" y="180.90" width="18.91" height="18.14" fill="#ffa7a7"/>
<rect x="60.10" y="198.89" width="18.91" height="18.14" fill="#ef8283"/>
<rect x="78.86" y="198.89" width="18.91" height="18.14" fill="#ca2a2e"/>
<rect x="97.61" y="198.89" width="18.91" height="18.14" fill="#ef8283"/>
<rect x="116.37" y="198.89" width="18.91" height="18.14" fill="#ffa7a7"/>
<rect x="135.12" y="198.89" width="18.91" height="18.14" fill="#ffa7a7"/>
<rect x="153.88" y="198.89" width="18.91" height="18.14" fill="#ffa7a7"/>
<rect x="172.63" y="198.89" width="18.91" height="18.14" fill="#ffa7a7"/>
<rect x="191.39" y="198.89" width="18.91" height="18.14" fill="#ffa7a7"/>
<rect x="210.14" y="198.89" width="18.91" height="18.14" fill="#ffa7a7"/>
<rect x="60.10" y="216.88" width="18.91" height="18.14" fill="#fda3a3"/>
<rect x="78.86" y="216.88" width="18.91" height="18.14" fill="#ef8283"/>
<rect x="97.61" y="216.88" width="18.91" height="18.14" fill="#ca2a2e"/>
<rect x="116.37" y="216.88" width="18.91" height="18.14" fill="#ef8283"/>
<rect x="135.12" y="216.88" width="18.91" height="18.14" fill="#fea4a5"/>
<rect x="153.88" y="216.88" width="18.91" height="18.14" fill="#ffa7a7"/>
<rect x="172.63" y="216.88" width="18.91" height="18.14" fill="#ffa7a7"/>
<rect x="191.39" y="216.88" width="18.91" height="18.14" fill="#ffa7a7"/>
<rect x="210.14" y="216.88" width="18.91" height="18.14" fill="#ffa7a7"/>
<rect x="60.10" y="234.87" width="18.91" height="18.14" fill="#fda2a2"/>
<rect x="78.86" y="234.87" width="18.91" height="18.14" fill="#fa9a9b"/>
<rect x="97.61" y="234.87" width="18.91" height="18.14" fill="#ef8283"/>
<rect x="116.37" y="234.87" width="18.91" height="18.14" fill="#ca2a2e"/>
<rect x="135.12" y="234.87" width="18.91" height="18.14" fill="#f08485"/>
<rect x="153.88" y="234.87" width="18.91" height="18.14" fill="#fca1a1"/>
<rect x="172.63" y="234.87" width="18.91" height="18.14" fill="#ffa7a7"/>
<rect x="191.39" y="234.87" width="18.91" height="18.14" fill="#ffa7a7"/>
<rect x="210.14" y="234.87" width="18.91" height="18.14" fill="#ffa7a7"/>
<rect x="60.10" y="252.86" width="18.91" height="18.14" fill="#fda2a2"/>
<rect x="78.86" y="252.86" width="18.91" height="18.14" fill="#fca1a1"/>
<rect x="97.61" y="252.86" width="18.91" height="18.14" fill="#fb9d9d"/>
<rect x="116.37" y="252.86" width="18.91" height="18.14" fill="#f48e8f"/>
<rect x="135.12" y="252.86" width="18.91" height="18.14" fill="#ca2a2e"/>
<rect x="153.88" y="252.86" width="18.91" height="18.14" fill="#ef8283"/>
<rect x="172.63" y="252.86" width="18.91" height="18.14" fill="#fca1a1"/>
<rect x="191.39" y="252.86" width="18.91" height="18.14" fill="#fda3a3"/>
<rect x="210.14" y="252.86" width="18.91" height="18.14" fill="#fea4a5"/>
<rect x="60.10" y="270.84" width="18.91" height="18.14" fill="#fda2a2"/>
<rect x="78.86" y="270.84" width="18.91" height="18.14" fill="#fda2a2"/>
<rect x="97.61" y="270.84" width="18.91" height="18.14" fill="#fca1a1"/>
<rect x="116.37" y="270.84" width="18.91" height="18.14" fill="#fb9d9d"/>
<rect x="135.12" y="270.84" width="18.91" height="18.14" fill="#f48e8f"/>
<rect x="153.88" y="270.84" width="18.91" height="18.14" fill="#cd3034"/>
<rect x="172.63" y="270.84" width="18.91" height="18.14" fill="#ef8283"/>
<rect x="191.39" y="270.84" width="18.91" height="18.14" fill="#fa9a9b"/>
<rect x="210.14" y="270.84" width="18.91" height="18.14" fill="#fda2a2"/>
<rect x="60.10" y="288.83" width="18.91" height="18.14" fill="#fea4a5"/>
<rect x="78.86" y="288.83" width="18.91" height="18.14" fill="#fea4a5"/>
<rect x="97.61" y="288.83" width="18.91" height="18.14" fill="#fea4a5"/>
<rect x="116.37" y="288.83" width="18.91" height="18.14" fill="#fea4a5"/>
<rect x="135.12" y="288.83" width="18.91" height="18.14" fill="#fa9a9b"/>
<rect x="153.88" y="288.83" width="18.91" height="18.14" fill="#ef8283"/>
<rect x="172.63" y="288.83" width="18.91" height="18.14" fill="#d23d40"/>
<rect x="191.39" y="288.83" width="18.91" height="18.14" fill="#f28889"/>
<rect x="210.14" y="288.83" width="18.91" height="18.14" fill="#f79495"/>
<rect x="60.10" y="306.82" width="18.91" height="18.14" fill="#fea4a5"/>
<rect x="78.86" y="306.82" width="18.91" height="18.14" fill="#fea4a5"/>
<rect x="97.61" y="306.82" width="18.91" height="18.14" fill="#fea4a5"/>
<rect x="116.37" y="306.82" width="18.91" height="18.14" fill="#fea4a5"/>
<rect x="135.12" y="306.82" width="18.91" height="18.14" fill="#fda3a3"/>
<rect x="153.88" y="306.82" width="18.91" height="18.14" fill="#fa9a9b"/>
<rect x="172.63" y="306.82" width="18.91" height="18.14" fill="#f28889"/>
<rect x="191.39" y="306.82" width="18.91" height="18.14" fill="#ca2a2e"/>
<rect x="210.14" y="306.82" width="18.91" height="18.14" fill="#ef8283"/>
<rect x="60.10" y="324.81" width="18.91" height="18.14" fill="#fea4a5"/>
<rect x="78.86" y="324.81" width="18.91" height="18.14" fill="#fea4a5"/>
<rect x="97.61" y="324.81" width="18.91" height="18.14" fill="#fea4a5"/>
<rect x="116.37" y="324.81" width="18.91" height="18.14" fill="#fea4a5"/>
<rect x="135.12" y="324.81" width="18.91" height="18.14" fill="#fea4a5"/>
<rect x="153.88" y="324.81" width="18.91" height="18.14" fill="#fda3a3"/>
<rect x="172.63" y="324.81" width="18.91" height="18.14" fill="#fca0a0"/>
<rect x="191.39" y="324.81" width="18.91" height="18.14" fill="#f28889"/>
<rect x="210.14" y="324.81" width="18.91" height="18.14" fill="#ca2a2e"/>
<rect x="243.8" y="334.81" width="9.299999999999983" height="8.08" fill="#fea4a4"/>
<rect x="243.8" y="326.73" width="9.299999999999983" height="9.08" fill="#fb9e9e"/>
<rect x="243.8" y="318.64" width="9.299999999999983" height="9.08" fill="#f89798"/>
<rect x="243.8" y="310.56" width="9.299999999999983" height="9.08" fill="#f69192"/>
<rect x="243.8" y="302.47" width="9.299999999999983" height="9.08" fill="#f38b8c"/>
<rect x="243.8" y="294.39" width="9.299999999999983" height="9.08" fill="#f08586"/>
<rect x="243.8" y="286.31" width="9.299999999999983" height="9.08" fill="#ee7e80"/>
<rect x="243.8" y="278.22" width="9.299999999999983" height="9.08" fill="#eb787a"/>
<rect x="243.8" y="270.13" width="9.299999999999983" height="9.08" fill="#e87274"/>
<rect x="243.8" y="262.05" width="9.299999999999983" height="9.08" fill="#e66c6e"/>
<rect x="243.8" y="253.96" width="9.299999999999983" height="9.08" fill="#e36567"/>
<rect x="243.8" y="245.88" width="9.299999999999983" height="9.08" fill="#e15f61"/>
<rect x="243.8" y="237.79" width="9.299999999999983" height="9.08" fill="#de595b"/>
<rect x="243.8" y="229.71" width="9.299999999999983" height="9.08" fill="#db5355"/>
<rect x="243.8" y="221.62" width="9.299999999999983" height="9.08" fill="#d94c4f"/>
<rect x="243.8" y="213.54" width="9.299999999999983" height="9.08" fill="#d64649"/>
<rect x="243.8" y="205.45" width="9.299999999999983" height="9.08" fill="#d34043"/>
<rect x="243.8" y="197.37" width="9.299999999999983" height="9.08" fill="#d13a3d"/>
<rect x="243.8" y="189.28" width="9.299999999999983" height="9.08" fill="#ce3337"/>
<rect x="243.8" y="181.20" width="9.299999999999983" height="9.08" fill="#cb2d31"/>
<rect x="269.30" y="180.90" width="168.60" height="161.60" fill="#f4df7c"/>
<rect x="269.30" y="180.90" width="18.88" height="18.11" fill="#966b2f"/>
<rect x="288.03" y="180.90" width="18.88" height="18.11" fill="#c6a657"/>
<rect x="306.77" y="180.90" width="18.88" height="18.11" fill="#e5cc70"/>
<rect x="325.50" y="180.90" width="18.88" height="18.11" fill="#f2dc7a"/>
<rect x="344.23" y="180.90" width="18.88" height="18.11" fill="#f4df7c"/>
<rect x="362.97" y="180.90" width="18.88" height="18.11" fill="#f4df7c"/>
<rect x="381.70" y="180.90" width="18.88" height="18.11" fill="#f4df7c"/>
<rect x="400.43" y="180.90" width="18.88" height="18.11" fill="#f4df7c"/>
<rect x="419.17" y="180.90" width="18.88" height="18.11" fill="#f4df7c"/>
<rect x="269.30" y="198.86" width="18.88" height="18.11" fill="#c3a254"/>
<rect x="288.03" y="198.86" width="18.88" height="18.11" fill="#94682e"/>
<rect x="306.77" y="198.86" width="18.88" height="18.11" fill="#c3a254"/>
<rect x="325.50" y="198.86" width="18.88" height="18.11" fill="#e5cc70"/>
<rect x="344.23" y="198.86" width="18.88" height="18.11" fill="#f4df7c"/>
<rect x="362.97" y="198.86" width="18.88" height="18.11" fill="#f4df7c"/>
<rect x="381.70" y="198.86" width="18.88" height="18.11" fill="#f4df7c"/>
<rect x="400.43" y="198.86" width="18.88" height="18.11" fill="#f4df7c"/>
<rect x="419.17" y="198.86" width="18.88" height="18.11" fill="#f4df7c"/>
<rect x="269.30" y="216.81" width="18.88" height="18.11" fill="#ebd475"/>
<rect x="288.03" y="216.81" width="18.88" height="18.11" fill="#c3a254"/>
<rect x="306.77" y="216.81" width="18.88" height="18.11" fill="#875823"/>
<rect x="325.50" y="216.81" width="18.88" height="18.11" fill="#c3a254"/>
<rect x="344.23" y="216.81" width="18.88" height="18.11" fill="#e7cf71"/>
<rect x="362.97" y="216.81" width="18.88" height="18.11" fill="#f4df7c"/>
<rect x="381.70" y="216.81" width="18.88" height="18.11" fill="#f4df7c"/>
<rect x="400.43" y="216.81" width="18.88" height="18.11" fill="#f4df7c"/>
<rect x="419.17" y="216.81" width="18.88" height="18.11" fill="#f4df7c"/>
<rect x="269.30" y="234.77" width="18.88" height="18.11" fill="#f4df7c"/>
<rect x="288.03" y="234.77" width="18.88" height="18.11" fill="#e7cf71"/>
<rect x="306.77" y="234.77" width="18.88" height="18.11" fill="#c3a254"/>
<rect x="325.50" y="234.77" width="18.88" height="18.11" fill="#875823"/>
<rect x="344.23" y="234.77" width="18.88" height="18.11" fill="#c3a254"/>
<rect x="362.97" y="234.77" width="18.88" height="18.11" fill="#e4cb6f"/>
<rect x="381.70" y="234.77" width="18.88" height="18.11" fill="#f4df7c"/>
<rect x="400.43" y="234.77" width="18.88" height="18.11" fill="#f4df7c"/>
<rect x="419.17" y="234.77" width="18.88" height="18.11" fill="#f4df7c"/>
<rect x="269.30" y="252.72" width="18.88" height="18.11" fill="#f4df7c"/>
<rect x="288.03" y="252.72" width="18.88" height="18.11" fill="#f4df7c"/>
<rect x="306.77" y="252.72" width="18.88" height="18.11" fill="#e9d273"/>
<rect x="325.50" y="252.72" width="18.88" height="18.11" fill="#be9c50"/>
<rect x="344.23" y="252.72" width="18.88" height="18.11" fill="#94682e"/>
<rect x="362.97" y="252.72" width="18.88" height="18.11" fill="#c6a657"/>
<rect x="381.70" y="252.72" width="18.88" height="18.11" fill="#e0c76c"/>
<rect x="400.43" y="252.72" width="18.88" height="18.11" fill="#f4df7c"/>
<rect x="419.17" y="252.72" width="18.88" height="18.11" fill="#f4df7c"/>
<rect x="269.30" y="270.68" width="18.88" height="18.11" fill="#f4df7c"/>
<rect x="288.03" y="270.68" width="18.88" height="18.11" fill="#f4df7c"/>
<rect x="306.77" y="270.68" width="18.88" height="18.11" fill="#f4df7c"/>
<rect x="325.50" y="270.68" width="18.88" height="18.11" fill="#ebd475"/>
<rect x="344.23" y="270.68" width="18.88" height="18.11" fill="#c3a254"/>
<rect x="362.97" y="270.68" width="18.88" height="18.11" fill="#94682e"/>
<rect x="381.70" y="270.68" width="18.88" height="18.11" fill="#c3a254"/>
<rect x="400.43" y="270.68" width="18.88" height="18.11" fill="#e3c96e"/>
<rect x="419.17" y="270.68" width="18.88" height="18.11" fill="#ebd475"/>
<rect x="269.30" y="288.63" width="18.88" height="18.11" fill="#f4df7c"/>
<rect x="288.03" y="288.63" width="18.88" height="18.11" fill="#f4df7c"/>
<rect x="306.77" y="288.63" width="18.88" height="18.11" fill="#f4df7c"/>
<rect x="325.50" y="288.63" width="18.88" height="18.11" fill="#f4df7c"/>
<rect x="344.23" y="288.63" width="18.88" height="18.11" fill="#ebd475"/>
<rect x="362.97" y="288.63" width="18.88" height="18.11" fill="#ceb05d"/>
<rect x="381.70" y="288.63" width="18.88" height="18.11" fill="#94682e"/>
<rect x="400.43" y="288.63" width="18.88" height="18.11" fill="#c3a254"/>
<rect x="419.17" y="288.63" width="18.88" height="18.11" fill="#dcc168"/>
<rect x="269.30" y="306.59" width="18.88" height="18.11" fill="#f4df7c"/>
<rect x="288.03" y="306.59" width="18.88" height="18.11" fill="#f4df7c"/>
<rect x="306.77" y="306.59" width="18.88" height="18.11" fill="#f4df7c"/>
<rect x="325.50" y="306.59" width="18.88" height="18.11" fill="#f4df7c"/>
<rect x="344.23" y="306.59" width="18.88" height="18.11" fill="#f4df7c"/>
<rect x="362.97" y="306.59" width="18.88" height="18.11" fill="#ebd475"/>
<rect x="381.70" y="306.59" width="18.88" height="18.11" fill="#c3a254"/>
<rect x="400.43" y="306.59" width="18.88" height="18.11" fill="#94682e"/>
<rect x="419.17" y="306.59" width="18.88" height="18.11" fill="#c3a254"/>
<rect x="269.30" y="324.54" width="18.88" height="18.11" fill="#f4df7c"/>
<rect x="288.03" y="324.54" width="18.88" height="18.11" fill="#f4df7c"/>
<rect x="306.77" y="324.54" width="18.88" height="18.11" fill="#f4df7c"/>
<rect x="325.50" y="324.54" width="18.88" height="18.11" fill="#f4df7c"/>
<rect x="344.23" y="324.54" width="18.88" height="18.11" fill="#f4df7c"/>
<rect x="362.97" y="324.54" width="18.88" height="18.11" fill="#f4df7c"/>
<rect x="381.70" y="324.54" width="18.88" height="18.11" fill="#edd777"/>
<rect x="400.43" y="324.54" width="18.88" height="18.11" fill="#c6a657"/>
<rect x="419.17" y="324.54" width="18.88" height="18.11" fill="#a27a39"/>
<rect x="453.1" y="334.82" width="9.0" height="8.07" fill="#f1dc7a"/>
<rect x="453.1" y="326.75" width="9.0" height="9.07" fill="#ecd575"/>
<rect x="453.1" y="318.67" width="9.0" height="9.07" fill="#e6ce71"/>
<rect x="453.1" y="310.60" width="9.0" height="9.07" fill="#e1c76c"/>
<rect x="453.1" y="302.52" width="9.0" height="9.07" fill="#dbc168"/>
<rect x="453.1" y="294.45" width="9.0" height="9.07" fill="#d6ba64"/>
<rect x="453.1" y="286.38" width="9.0" height="9.07" fill="#d1b35f"/>
<rect x="453.1" y="278.30" width="9.0" height="9.07" fill="#cbac5b"/>
<rect x="453.1" y="270.22" width="9.0" height="9.07" fill="#c6a656"/>
<rect x="453.1" y="262.15" width="9.0" height="9.07" fill="#c09f52"/>
<rect x="453.1" y="254.07" width="9.0" height="9.07" fill="#bb984d"/>
<rect x="453.1" y="246.00" width="9.0" height="9.07" fill="#b59149"/>
<rect x="453.1" y="237.92" width="9.0" height="9.07" fill="#b08b44"/>
<rect x="453.1" y="229.85" width="9.0" height="9.07" fill="#aa8440"/>
<rect x="453.1" y="221.77" width="9.0" height="9.07" fill="#a57d3b"/>
<rect x="453.1" y="213.70" width="9.0" height="9.07" fill="#a07637"/>
<rect x="453.1" y="205.62" width="9.0" height="9.07" fill="#9a7033"/>
<rect x="453.1" y="197.55" width="9.0" height="9.07" fill="#95692e"/>
<rect x="453.1" y="189.47" width="9.0" height="9.07" fill="#8f622a"/>
<rect x="453.1" y="181.40" width="9.0" height="9.07" fill="#8a5b25"/>
<rect x="478.20" y="180.90" width="168.90" height="161.50" fill="#b296f8"/>
<rect x="478.20" y="180.90" width="18.92" height="18.09" fill="#233a75"/>
<rect x="496.97" y="180.90" width="18.92" height="18.09" fill="#4e54a0"/>
<rect x="515.73" y="180.90" width="18.92" height="18.09" fill="#897ad6"/>
<rect x="534.50" y="180.90" width="18.92" height="18.09" fill="#a18aea"/>
<rect x="553.27" y="180.90" width="18.92" height="18.09" fill="#a990f0"/>
<rect x="572.03" y="180.90" width="18.92" height="18.09" fill="#b094f6"/>
<rect x="590.80" y="180.90" width="18.92" height="18.09" fill="#b296f8"/>
<rect x="609.57" y="180.90" width="18.92" height="18.09" fill="#b296f8"/>
<rect x="628.33" y="180.90" width="18.92" height="18.09" fill="#b296f8"/>
<rect x="478.20" y="198.84" width="18.92" height="18.09" fill="#304282"/>
<rect x="496.97" y="198.84" width="18.92" height="18.09" fill="#19346c"/>
<rect x="515.73" y="198.84" width="18.92" height="18.09" fill="#5c5dac"/>
<rect x="534.50" y="198.84" width="18.92" height="18.09" fill="#8476d2"/>
<rect x="553.27" y="198.84" width="18.92" height="18.09" fill="#a18aea"/>
<rect x="572.03" y="198.84" width="18.92" height="18.09" fill="#af94f5"/>
<rect x="590.80" y="198.84" width="18.92" height="18.09" fill="#b296f8"/>
<rect x="609.57" y="198.84" width="18.92" height="18.09" fill="#b296f8"/>
<rect x="628.33" y="198.84" width="18.92" height="18.09" fill="#b296f8"/>
<rect x="478.20" y="216.79" width="18.92" height="18.09" fill="#8476d2"/>
<rect x="496.97" y="216.79" width="18.92" height="18.09" fill="#3b498d"/>
<rect x="515.73" y="216.79" width="18.92" height="18.09" fill="#283d7b"/>
<rect x="534.50" y="216.79" width="18.92" height="18.09" fill="#4e54a0"/>
<rect x="553.27" y="216.79" width="18.92" height="18.09" fill="#897ad6"/>
<rect x="572.03" y="216.79" width="18.92" height="18.09" fill="#9d88e7"/>
<rect x="590.80" y="216.79" width="18.92" height="18.09" fill="#b296f8"/>
<rect x="609.57" y="216.79" width="18.92" height="18.09" fill="#b296f8"/>
<rect x="628.33" y="216.79" width="18.92" height="18.09" fill="#b296f8"/>
<rect x="478.20" y="234.73" width="18.92" height="18.09" fill="#a48cec"/>
<rect x="496.97" y="234.73" width="18.92" height="18.09" fill="#8678d4"/>
<rect x="515.73" y="234.73" width="18.92" height="18.09" fill="#434e94"/>
<rect x="534.50" y="234.73" width="18.92" height="18.09" fill="#19346c"/>
<rect x="553.27" y="234.73" width="18.92" height="18.09" fill="#5659a7"/>
<rect x="572.03" y="234.73" width="18.92" height="18.09" fill="#8678d4"/>
<rect x="590.80" y="234.73" width="18.92" height="18.09" fill="#a48cec"/>
<rect x="609.57" y="234.73" width="18.92" height="18.09" fill="#b094f6"/>
<rect x="628.33" y="234.73" width="18.92" height="18.09" fill="#b296f8"/>
<rect x="478.20" y="252.68" width="18.92" height="18.09" fill="#ac92f3"/>
<rect x="496.97" y="252.68" width="18.92" height="18.09" fill="#a48cec"/>
<rect x="515.73" y="252.68" width="18.92" height="18.09" fill="#8174d0"/>
<rect x="534.50" y="252.68" width="18.92" height="18.09" fill="#434e94"/>
<rect x="553.27" y="252.68" width="18.92" height="18.09" fill="#283d7b"/>
<rect x="572.03" y="252.68" width="18.92" height="18.09" fill="#48519a"/>
<rect x="590.80" y="252.68" width="18.92" height="18.09" fill="#8678d4"/>
<rect x="609.57" y="252.68" width="18.92" height="18.09" fill="#a18aea"/>
<rect x="628.33" y="252.68" width="18.92" height="18.09" fill="#af94f5"/>
<rect x="478.20" y="270.62" width="18.92" height="18.09" fill="#b296f8"/>
<rect x="496.97" y="270.62" width="18.92" height="18.09" fill="#b296f8"/>
<rect x="515.73" y="270.62" width="18.92" height="18.09" fill="#a68eee"/>
<rect x="534.50" y="270.62" width="18.92" height="18.09" fill="#8d7cd9"/>
<rect x="553.27" y="270.62" width="18.92" height="18.09" fill="#434e94"/>
<rect x="572.03" y="270.62" width="18.92" height="18.09" fill="#19346c"/>
<rect x="590.80" y="270.62" width="18.92" height="18.09" fill="#48519a"/>
<rect x="609.57" y="270.62" width="18.92" height="18.09" fill="#8174d0"/>
<rect x="628.33" y="270.62" width="18.92" height="18.09" fill="#9d88e7"/>
<rect x="478.20" y="288.57" width="18.92" height="18.09" fill="#b296f8"/>
<rect x="496.97" y="288.57" width="18.92" height="18.09" fill="#b296f8"/>
<rect x="515.73" y="288.57" width="18.92" height="18.09" fill="#b296f8"/>
<rect x="534.50" y="288.57" width="18.92" height="18.09" fill="#a990f0"/>
<rect x="553.27" y="288.57" width="18.92" height="18.09" fill="#8f7edb"/>
<rect x="572.03" y="288.57" width="18.92" height="18.09" fill="#6965b9"/>
<rect x="590.80" y="288.57" width="18.92" height="18.09" fill="#233a75"/>
<rect x="609.57" y="288.57" width="18.92" height="18.09" fill="#5659a7"/>
<rect x="628.33" y="288.57" width="18.92" height="18.09" fill="#8678d4"/>
<rect x="478.20" y="306.51" width="18.92" height="18.09" fill="#b296f8"/>
<rect x="496.97" y="306.51" width="18.92" height="18.09" fill="#b296f8"/>
<rect x="515.73" y="306.51" width="18.92" height="18.09" fill="#b296f8"/>
<rect x="534.50" y="306.51" width="18.92" height="18.09" fill="#b296f8"/>
<rect x="553.27" y="306.51" width="18.92" height="18.09" fill="#a68eee"/>
<rect x="572.03" y="306.51" width="18.92" height="18.09" fill="#8476d2"/>
<rect x="590.80" y="306.51" width="18.92" height="18.09" fill="#434e94"/>
<rect x="609.57" y="306.51" width="18.92" height="18.09" fill="#304282"/>
<rect x="628.33" y="306.51" width="18.92" height="18.09" fill="#434e94"/>
<rect x="478.20" y="324.46" width="18.92" height="18.09" fill="#b296f8"/>
<rect x="496.97" y="324.46" width="18.92" height="18.09" fill="#b296f8"/>
<rect x="515.73" y="324.46" width="18.92" height="18.09" fill="#b296f8"/>
<rect x="534.50" y="324.46" width="18.92" height="18.09" fill="#b296f8"/>
<rect x="553.27" y="324.46" width="18.92" height="18.09" fill="#b296f8"/>
<rect x="572.03" y="324.46" width="18.92" height="18.09" fill="#a68eee"/>
<rect x="590.80" y="324.46" width="18.92" height="18.09" fill="#8174d0"/>
<rect x="609.57" y="324.46" width="18.92" height="18.09" fill="#48519a"/>
<rect x="628.33" y="324.46" width="18.92" height="18.09" fill="#364588"/>
<rect x="662.1" y="334.82" width="8.899999999999977" height="8.07" fill="#af94f6"/>
<rect x="662.1" y="326.75" width="8.899999999999977" height="9.07" fill="#a990f1"/>
<rect x="662.1" y="318.67" width="8.899999999999977" height="9.07" fill="#a48cec"/>
<rect x="662.1" y="310.60" width="8.899999999999977" height="9.07" fill="#9e88e7"/>
<rect x="662.1" y="302.52" width="8.899999999999977" height="9.07" fill="#9884e2"/>
<rect x="662.1" y="294.45" width="8.899999999999977" height="9.07" fill="#9280de"/>
<rect x="662.1" y="286.38" width="8.899999999999977" height="9.07" fill="#8c7cd9"/>
<rect x="662.1" y="278.30" width="8.899999999999977" height="9.07" fill="#8678d4"/>
<rect x="662.1" y="270.22" width="8.899999999999977" height="9.07" fill="#8174cf"/>
<rect x="662.1" y="262.15" width="8.899999999999977" height="9.07" fill="#7b70ca"/>
<rect x="662.1" y="254.07" width="8.899999999999977" height="9.07" fill="#736bc3"/>
<rect x="662.1" y="246.00" width="8.899999999999977" height="9.07" fill="#6a65ba"/>
<rect x="662.1" y="237.92" width="8.899999999999977" height="9.07" fill="#6060b1"/>
<rect x="662.1" y="229.85" width="8.899999999999977" height="9.07" fill="#575aa8"/>
<rect x="662.1" y="221.77" width="8.899999999999977" height="9.07" fill="#4d549f"/>
<rect x="662.1" y="213.70" width="8.899999999999977" height="9.07" fill="#444e95"/>
<rect x="662.1" y="205.62" width="8.899999999999977" height="9.07" fill="#3a488c"/>
<rect x="662.1" y="197.55" width="8.899999999999977" height="9.07" fill="#314283"/>
<rect x="662.1" y="189.47" width="8.899999999999977" height="9.07" fill="#273d7a"/>
<rect x="662.1" y="181.40" width="8.899999999999977" height="9.07" fill="#1e3771"/>
<text x="255.20" y="190.20" font-size="10.3" text-anchor="start" fill="#231f20" >1.0</text>
<text x="255.20" y="266.60" font-size="10.3" text-anchor="start" fill="#231f20" >0.5</text>
<text x="255.20" y="343.40" font-size="10.3" text-anchor="start" fill="#231f20" >0</text>
<text x="463.70" y="190.20" font-size="10.3" text-anchor="start" fill="#231f20" >1.0</text>
<text x="463.70" y="266.60" font-size="10.3" text-anchor="start" fill="#231f20" >0.5</text>
<text x="463.70" y="343.40" font-size="10.3" text-anchor="start" fill="#231f20" >0</text>
<text x="672.10" y="190.20" font-size="10.3" text-anchor="start" fill="#231f20" >1.0</text>
<text x="672.10" y="266.60" font-size="10.3" text-anchor="start" fill="#231f20" >0.5</text>
<text x="672.10" y="343.40" font-size="10.3" text-anchor="start" fill="#231f20" >0</text>
<text x="83.40" y="353.60" font-size="10.6" text-anchor="middle" fill="#231f20" >C44</text>
<text x="83.40" y="366.80" font-size="10.6" text-anchor="middle" fill="#231f20" >1542.14nm</text>
<text x="146.40" y="353.60" font-size="10.6" text-anchor="middle" fill="#231f20" >C46</text>
<text x="145.80" y="366.80" font-size="10.6" text-anchor="middle" fill="#231f20" >1540.56nm</text>
<text x="203.50" y="353.60" font-size="10.6" text-anchor="middle" fill="#231f20" >C48</text>
<text x="206.70" y="366.80" font-size="10.6" text-anchor="middle" fill="#231f20" >1538.98nm</text>
<text x="289.60" y="353.60" font-size="10.6" text-anchor="middle" fill="#231f20" >C44</text>
<text x="289.90" y="366.80" font-size="10.6" text-anchor="middle" fill="#231f20" >1542.14nm</text>
<text x="352.40" y="353.60" font-size="10.6" text-anchor="middle" fill="#231f20" >C46</text>
<text x="352.00" y="366.80" font-size="10.6" text-anchor="middle" fill="#231f20" >1540.56nm</text>
<text x="410.00" y="353.60" font-size="10.6" text-anchor="middle" fill="#231f20" >C48</text>
<text x="413.00" y="366.80" font-size="10.6" text-anchor="middle" fill="#231f20" >1538.98nm</text>
<text x="500.30" y="353.60" font-size="10.6" text-anchor="middle" fill="#231f20" >C44</text>
<text x="500.50" y="366.80" font-size="10.6" text-anchor="middle" fill="#231f20" >1542.14nm</text>
<text x="563.00" y="353.60" font-size="10.6" text-anchor="middle" fill="#231f20" >C46</text>
<text x="563.00" y="366.80" font-size="10.6" text-anchor="middle" fill="#231f20" >1540.56nm</text>
<text x="620.70" y="353.60" font-size="10.6" text-anchor="middle" fill="#231f20" >C48</text>
<text x="623.50" y="366.80" font-size="10.6" text-anchor="middle" fill="#231f20" >1538.98nm</text>
<text x="146.50" y="384.00" font-size="13.5" text-anchor="middle" fill="#231f20" >Idler Photons(CW~100MHz)</text>
<text x="350.00" y="384.00" font-size="13.5" text-anchor="middle" fill="#231f20" >Idler Photons(ASE-100 GHz)</text>
<text x="560.70" y="384.00" font-size="13.5" text-anchor="middle" fill="#231f20" >Idler Photons(ASE-200 GHz)</text>
<text x="36.20" y="194.80" font-size="10.6" text-anchor="middle" fill="#231f20" >C24</text>
<text x="35.90" y="210.10" font-size="10.6" text-anchor="middle" fill="#231f20" >1558.17nm</text>
<text x="36.20" y="259.60" font-size="10.6" text-anchor="middle" fill="#231f20" >C22</text>
<text x="35.90" y="271.60" font-size="10.6" text-anchor="middle" fill="#231f20" >1559.79nm</text>
<text x="36.20" y="328.10" font-size="10.6" text-anchor="middle" fill="#231f20" >C20</text>
<text x="35.90" y="341.60" font-size="10.6" text-anchor="middle" fill="#231f20" >1561.42nm</text>
<text x="17.40" y="176.50" font-size="15" text-anchor="start" fill="#231f20" >(d)</text>
<text x="247.30" y="176.50" font-size="15" text-anchor="start" fill="#231f20" >(e)</text>
<text x="465.90" y="176.50" font-size="15" text-anchor="start" fill="#231f20" >(f)</text>
<g transform="translate(11.2,263.8) rotate(-90)">
<text x="0.00" y="0.00" font-size="13.5" text-anchor="middle" fill="#231f20" >Signal Photons(50GHz filtering)</text>
</g>
</svg></body></html>
